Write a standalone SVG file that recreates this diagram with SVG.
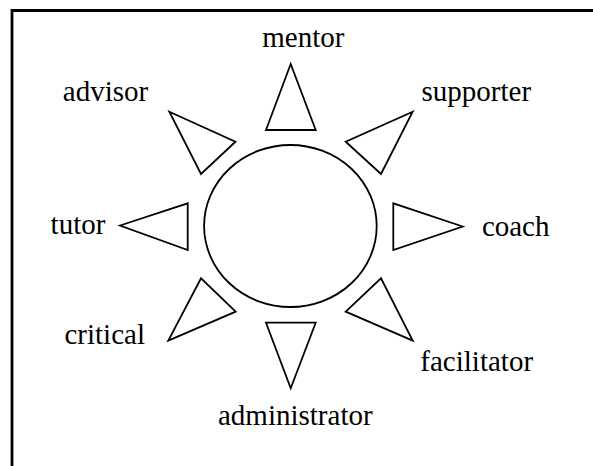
<svg xmlns="http://www.w3.org/2000/svg" width="593" height="466" viewBox="0 0 593 466">
  <style>
    .frame { fill: none; stroke: #000; stroke-width: 2.8; }
    .ray { fill: #fff; stroke: #000; stroke-width: 1.8; stroke-linejoin: miter; }
    .hub { fill: #fff; stroke: #000; stroke-width: 1.8; }
    .lbl { font-family: "Liberation Serif", "Times New Roman", serif; font-size: 29px; fill: #000; text-anchor: middle; }
  </style>
  <rect width="593" height="466" fill="#fff"/>
  <!-- open frame: top and left edges only -->
  <path class="frame" d="M12 466 V10.5 H593"/>

  <g id="hub">
    <ellipse class="hub" cx="290.4" cy="226" rx="86.3" ry="81"/>
  </g>

  <g id="mentor">
    <polygon class="ray" points="290.7,64 266,130 315.7,130"/>
    <text class="lbl" x="303.3" y="47">mentor</text>
  </g>
  <g id="supporter">
    <polygon class="ray" points="412.7,111.7 345.7,141.7 381,174"/>
    <text class="lbl" x="476.3" y="101">supporter</text>
  </g>
  <g id="coach">
    <polygon class="ray" points="462.7,226.5 393.3,203.3 393.3,250"/>
    <text class="lbl" x="515.7" y="236">coach</text>
  </g>
  <g id="facilitator">
    <polygon class="ray" points="412.7,340.7 345.7,311.7 381,278.3"/>
    <text class="lbl" x="476.7" y="371">facilitator</text>
  </g>
  <g id="administrator">
    <polygon class="ray" points="290.7,388.3 266,322.7 315.7,322.7"/>
    <text class="lbl" x="295.3" y="425">administrator</text>
  </g>
  <g id="critical">
    <polygon class="ray" points="168.3,340.7 235.7,311.7 201,278.3"/>
    <text class="lbl" x="104.7" y="344">critical</text>
  </g>
  <g id="tutor">
    <polygon class="ray" points="120,225.5 187.7,203.3 187.7,250"/>
    <text class="lbl" x="78" y="234">tutor</text>
  </g>
  <g id="advisor">
    <polygon class="ray" points="169.3,111.7 235.5,141.7 201,174"/>
    <text class="lbl" x="105.5" y="101">advisor</text>
  </g>
</svg>
